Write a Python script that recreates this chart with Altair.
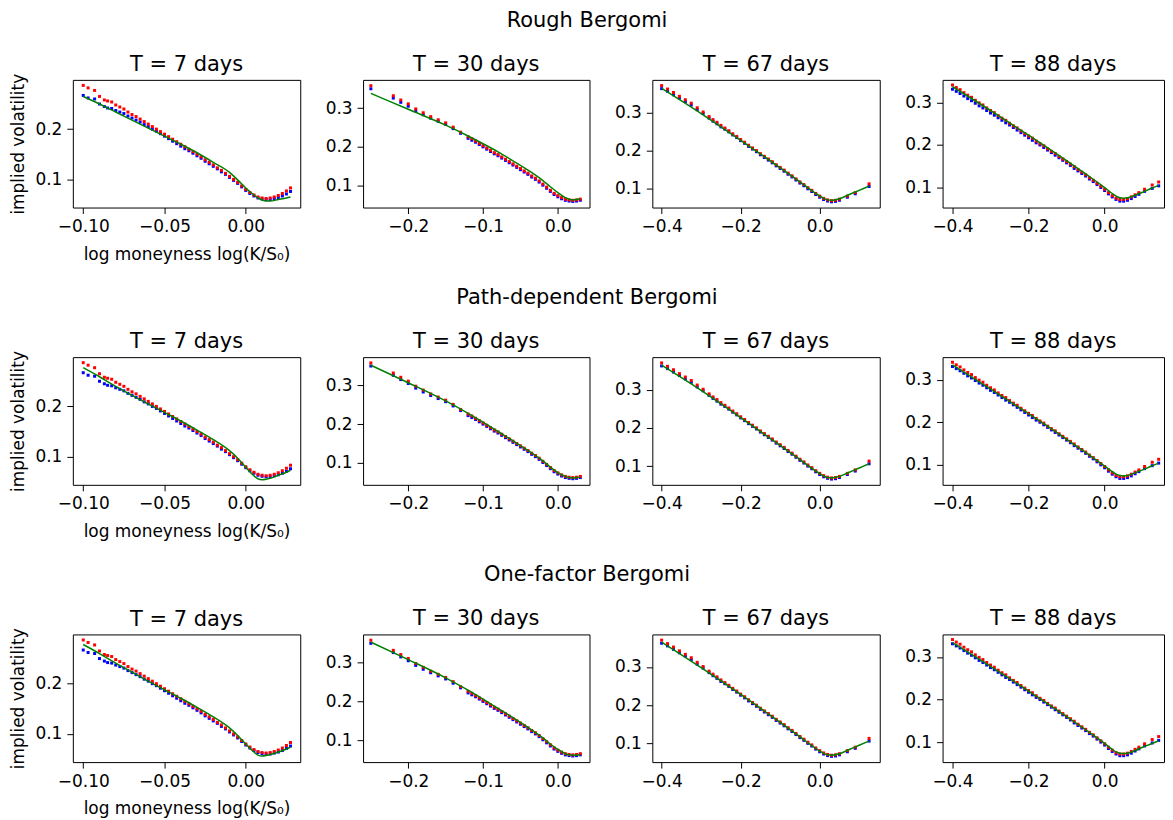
import altair as alt
import pandas as pd

# ---------------- market data (same for every model row) ----------------
k7 = [-0.100, -0.097, -0.093, -0.090, -0.087, -0.085, -0.0825, -0.080, -0.0775, -0.075,
      -0.0725, -0.070, -0.0675, -0.065, -0.0625, -0.060, -0.0575, -0.055, -0.0525, -0.050,
      -0.0475, -0.045, -0.0425, -0.040, -0.0375, -0.035, -0.0325, -0.030, -0.0275, -0.025,
      -0.0225, -0.020, -0.0175, -0.015, -0.0125, -0.010, -0.0075, -0.005, -0.0025, 0.000,
      0.0025, 0.005, 0.0075, 0.010, 0.0125, 0.015, 0.0175, 0.020, 0.0225, 0.025, 0.0275]
ask7 = [0.287, 0.282, 0.277, 0.265, 0.258, 0.256, 0.254, 0.248, 0.244, 0.240,
        0.234, 0.229, 0.225, 0.220, 0.215, 0.210, 0.205, 0.200, 0.195, 0.190,
        0.185, 0.180, 0.175, 0.170, 0.165, 0.160, 0.155, 0.150, 0.145, 0.139,
        0.134, 0.129, 0.123, 0.118, 0.112, 0.106, 0.100, 0.094, 0.087, 0.080,
        0.074, 0.069, 0.065, 0.063, 0.062, 0.063, 0.065, 0.068, 0.072, 0.077, 0.083]
bid7 = [0.267, 0.262, 0.260, 0.250, 0.245, 0.242, 0.241, 0.237, 0.234, 0.231,
        0.226, 0.222, 0.218, 0.214, 0.209, 0.205, 0.200, 0.196, 0.191, 0.186,
        0.181, 0.176, 0.171, 0.166, 0.161, 0.157, 0.152, 0.147, 0.142, 0.136,
        0.131, 0.126, 0.121, 0.115, 0.110, 0.104, 0.098, 0.092, 0.085, 0.078,
        0.072, 0.067, 0.063, 0.061, 0.060, 0.060, 0.062, 0.064, 0.067, 0.071, 0.076]

k30 = [-0.25, -0.22, -0.21, -0.20, -0.19, -0.18, -0.17, -0.16, -0.15, -0.14,
       -0.13, -0.12, -0.115, -0.11, -0.105, -0.10, -0.095, -0.09, -0.085, -0.08,
       -0.075, -0.07, -0.065, -0.06, -0.055, -0.05, -0.045, -0.04, -0.035, -0.03,
       -0.025, -0.02, -0.015, -0.01, -0.005, 0.0, 0.005, 0.01, 0.015, 0.02, 0.025, 0.03]
ask30 = [0.358, 0.332, 0.321, 0.311, 0.298, 0.288, 0.278, 0.270, 0.262, 0.251,
         0.238, 0.226, 0.221, 0.215, 0.209, 0.203, 0.197, 0.191, 0.185, 0.180,
         0.174, 0.168, 0.162, 0.156, 0.150, 0.144, 0.138, 0.132, 0.125, 0.119,
         0.112, 0.104, 0.096, 0.088, 0.080, 0.074, 0.069, 0.065, 0.063, 0.062, 0.063, 0.065]
bid30 = [0.350, 0.326, 0.315, 0.305, 0.293, 0.283, 0.274, 0.266, 0.258, 0.247,
         0.235, 0.222, 0.217, 0.212, 0.206, 0.200, 0.194, 0.188, 0.182, 0.177,
         0.171, 0.165, 0.159, 0.153, 0.147, 0.141, 0.135, 0.129, 0.122, 0.116,
         0.109, 0.101, 0.093, 0.085, 0.077, 0.071, 0.066, 0.062, 0.060, 0.059, 0.060, 0.062]

k67 = [-0.400, -0.385, -0.370, -0.355, -0.340, -0.325, -0.310, -0.295, -0.280, -0.270,
       -0.260, -0.250, -0.240, -0.230, -0.220, -0.210, -0.200, -0.190, -0.180, -0.170,
       -0.160, -0.150, -0.140, -0.130, -0.120, -0.110, -0.100, -0.090, -0.080, -0.070,
       -0.060, -0.050, -0.040, -0.030, -0.020, -0.010, 0.000, 0.010, 0.020, 0.030,
       0.040, 0.050, 0.070, 0.090, 0.125]
ask67 = [0.370, 0.361, 0.352, 0.342, 0.333, 0.324, 0.312, 0.301, 0.289, 0.281,
         0.274, 0.266, 0.259, 0.252, 0.244, 0.237, 0.229, 0.222, 0.214, 0.207,
         0.200, 0.192, 0.185, 0.178, 0.171, 0.163, 0.156, 0.149, 0.141, 0.134,
         0.126, 0.118, 0.111, 0.103, 0.096, 0.088, 0.081, 0.075, 0.071, 0.069,
         0.070, 0.073, 0.081, 0.090, 0.113]
bid67 = [0.362, 0.355, 0.346, 0.337, 0.328, 0.319, 0.307, 0.297, 0.285, 0.277,
         0.270, 0.262, 0.256, 0.249, 0.241, 0.234, 0.226, 0.219, 0.211, 0.204,
         0.197, 0.189, 0.182, 0.175, 0.168, 0.160, 0.153, 0.146, 0.138, 0.131,
         0.123, 0.115, 0.108, 0.100, 0.093, 0.085, 0.078, 0.072, 0.068, 0.066,
         0.067, 0.070, 0.078, 0.087, 0.106]

k88 = [-0.40, -0.39, -0.38, -0.37, -0.36, -0.35, -0.34, -0.33, -0.32, -0.31,
       -0.30, -0.29, -0.28, -0.27, -0.26, -0.25, -0.24, -0.23, -0.22, -0.21,
       -0.20, -0.19, -0.18, -0.17, -0.16, -0.15, -0.14, -0.13, -0.12, -0.11,
       -0.10, -0.09, -0.08, -0.07, -0.06, -0.05, -0.04, -0.03, -0.02, -0.01,
       0.00, 0.01, 0.02, 0.03, 0.04, 0.05, 0.06, 0.07, 0.08, 0.09,
       0.105, 0.125, 0.142]
ask88 = [0.341, 0.335, 0.330, 0.323, 0.317, 0.312, 0.305, 0.299, 0.294, 0.287,
         0.281, 0.276, 0.269, 0.263, 0.258, 0.251, 0.245, 0.240, 0.233, 0.227,
         0.221, 0.216, 0.209, 0.203, 0.198, 0.191, 0.185, 0.180, 0.173, 0.167,
         0.161, 0.155, 0.149, 0.142, 0.136, 0.130, 0.123, 0.117, 0.110, 0.103,
         0.096, 0.088, 0.081, 0.075, 0.072, 0.072, 0.074, 0.078, 0.083, 0.088,
         0.096, 0.106, 0.113]
bid88 = [0.331, 0.326, 0.321, 0.315, 0.309, 0.304, 0.298, 0.292, 0.287, 0.281,
         0.275, 0.270, 0.264, 0.258, 0.252, 0.247, 0.241, 0.235, 0.229, 0.223,
         0.217, 0.211, 0.205, 0.200, 0.194, 0.188, 0.182, 0.176, 0.170, 0.164,
         0.158, 0.152, 0.145, 0.139, 0.133, 0.127, 0.120, 0.114, 0.107, 0.100,
         0.093, 0.085, 0.078, 0.072, 0.068, 0.068, 0.070, 0.074, 0.079, 0.084,
         0.091, 0.098, 0.104]

# ---------------- model curves (green) ----------------
mx7 = [-0.100, -0.090, -0.080, -0.070, -0.060, -0.050, -0.040, -0.030, -0.020, -0.010,
       -0.005, 0.000, 0.005, 0.0075, 0.010, 0.0125, 0.015, 0.020, 0.025, 0.0275]
rough7 = [0.265, 0.250, 0.234, 0.218, 0.202, 0.186, 0.170, 0.153, 0.134, 0.114,
          0.099, 0.083, 0.069, 0.063, 0.059, 0.057, 0.057, 0.060, 0.063, 0.065]
pdv7 = [0.277, 0.259, 0.240, 0.222, 0.205, 0.188, 0.171, 0.153, 0.134, 0.112,
        0.097, 0.079, 0.062, 0.056, 0.054, 0.055, 0.057, 0.063, 0.069, 0.073]
one7 = [0.278, 0.260, 0.241, 0.223, 0.205, 0.188, 0.171, 0.153, 0.134, 0.112,
        0.097, 0.080, 0.064, 0.058, 0.056, 0.057, 0.059, 0.064, 0.070, 0.074]

mx30 = [-0.25, -0.20, -0.15, -0.12, -0.10, -0.08, -0.06, -0.04, -0.02, -0.01,
        0.00, 0.01, 0.015, 0.02, 0.025, 0.03]
rough30 = [0.338, 0.297, 0.256, 0.228, 0.208, 0.187, 0.164, 0.140, 0.113, 0.097,
           0.082, 0.069, 0.065, 0.063, 0.064, 0.066]
pdv30 = [0.352, 0.307, 0.260, 0.228, 0.205, 0.181, 0.157, 0.132, 0.105, 0.089,
         0.075, 0.065, 0.062, 0.061, 0.062, 0.063]
one30 = [0.353, 0.308, 0.261, 0.229, 0.206, 0.182, 0.158, 0.133, 0.106, 0.090,
         0.076, 0.065, 0.062, 0.061, 0.061, 0.062]

mx67 = [-0.40, -0.30, -0.20, -0.10, -0.05, -0.02, 0.00, 0.01, 0.02, 0.03,
        0.05, 0.075, 0.10, 0.125]
rough67 = [0.363, 0.297, 0.227, 0.155, 0.118, 0.095, 0.081, 0.075, 0.071, 0.070,
           0.074, 0.085, 0.096, 0.107]
pdv67 = [0.364, 0.298, 0.227, 0.154, 0.117, 0.094, 0.080, 0.074, 0.070, 0.069,
         0.073, 0.084, 0.095, 0.106]
one67 = [0.365, 0.298, 0.228, 0.155, 0.117, 0.094, 0.080, 0.074, 0.070, 0.069,
         0.073, 0.084, 0.095, 0.106]

mx88 = [-0.40, -0.30, -0.20, -0.10, -0.05, 0.00, 0.02, 0.03, 0.04, 0.05,
        0.06, 0.08, 0.10, 0.12, 0.142]
rough88 = [0.337, 0.281, 0.223, 0.163, 0.132, 0.100, 0.086, 0.080, 0.076, 0.075,
           0.076, 0.082, 0.089, 0.097, 0.105]
pdv88 = [0.335, 0.278, 0.220, 0.160, 0.129, 0.097, 0.084, 0.078, 0.075, 0.074,
         0.075, 0.081, 0.088, 0.096, 0.104]
one88 = [0.334, 0.278, 0.220, 0.160, 0.129, 0.097, 0.083, 0.077, 0.074, 0.073,
         0.074, 0.080, 0.088, 0.095, 0.103]

row_titles = ["Rough Bergomi", "Path-dependent Bergomi", "One-factor Bergomi"]
maturities = [7, 30, 67, 88]
x_ticks = {7: [-0.10, -0.05, 0.00], 30: [-0.2, -0.1, 0.0], 67: [-0.4, -0.2, 0.0], 88: [-0.4, -0.2, 0.0]}
y_ticks = {7: [0.1, 0.2], 30: [0.1, 0.2, 0.3], 67: [0.1, 0.2, 0.3], 88: [0.1, 0.2, 0.3]}

# ---------------- build ----------------
FONT = "DejaVu Sans"
BLUE, RED, GREEN = "#0000ff", "#ff0000", "#008000"

market = {7: (k7, bid7, ask7), 30: (k30, bid30, ask30), 67: (k67, bid67, ask67), 88: (k88, bid88, ask88)}
model_x = {7: mx7, 30: mx30, 67: mx67, 88: mx88}
models = {
    "Rough Bergomi": {7: rough7, 30: rough30, 67: rough67, 88: rough88},
    "Path-dependent Bergomi": {7: pdv7, 30: pdv30, 67: pdv67, 88: pdv88},
    "One-factor Bergomi": {7: one7, 30: one30, 67: one67, 88: one88},
}
x_dom = {7: [-0.1064, 0.0335], 30: [-0.2604, 0.0423], 67: [-0.4235, 0.152], 88: [-0.426, 0.156]}
y_dom = {7: [0.044, 0.298], 30: [0.0433, 0.373], 67: [0.051, 0.385], 88: [0.053, 0.353]}
widths = {7: 228, 30: 227, 67: 228, 88: 222}
HEIGHT = 128
TITLE_OFF = 5


def panel(model_name, T, first):
    k, bid, ask = market[T]
    mkt = pd.DataFrame({"k": k, "bid": bid, "ask": ask})
    mod = pd.DataFrame({"k": model_x[T], "iv": models[model_name][T]})
    xfmt = ".2f" if T == 7 else ".1f"
    xs = alt.Scale(domain=x_dom[T], nice=False, zero=False)
    ys = alt.Scale(domain=y_dom[T], nice=False, zero=False)
    xa = alt.Axis(values=x_ticks[T], format=xfmt, labelOverlap=False, labelFlush=False,
                  title="log moneyness log(K/S₀)" if first else None)
    ya = alt.Axis(values=y_ticks[T], format=".1f", labelOverlap=False, labelFlush=False,
                  title="implied volatility" if first else None)
    base = alt.Chart(mkt)
    b = base.mark_square(size=9, color=BLUE, opacity=1).encode(
        x=alt.X("k:Q", scale=xs, axis=xa), y=alt.Y("bid:Q", scale=ys, axis=ya))
    a = base.mark_square(size=9, color=RED, opacity=1).encode(
        x=alt.X("k:Q", scale=xs, axis=xa), y=alt.Y("ask:Q", scale=ys, axis=ya))
    g = alt.Chart(mod).mark_line(color=GREEN, strokeWidth=1.5, interpolate="monotone").encode(
        x=alt.X("k:Q", scale=xs, axis=xa), y=alt.Y("iv:Q", scale=ys, axis=ya))
    # the first panel's rotated y title reaches above the frame; compensate so titles line up
    off = TITLE_OFF - 7 if first else TITLE_OFF
    return alt.layer(b, a, g).properties(
        width=widths[T], height=HEIGHT,
        title=alt.TitleParams(f"T = {T} days", fontSize=21, font=FONT, fontWeight="normal",
                              color="black", offset=off, anchor="middle", frame="group"))


rows = []
for name in row_titles:
    panels = [panel(name, T, i == 0) for i, T in enumerate(maturities)]
    rows.append(alt.hconcat(*panels, spacing=63, bounds="flush").properties(
        title=alt.TitleParams(name, fontSize=21, font=FONT, fontWeight="normal",
                              color="black", offset=23, anchor="middle")))

chart = alt.vconcat(*rows, spacing=23).properties(
    padding={"left": 1, "top": 0, "right": 0, "bottom": 0}
).configure_view(
    stroke="black", strokeWidth=1
).configure_axis(
    labelFont=FONT, labelFontSize=17, labelColor="black",
    titleFont=FONT, titleFontSize=17, titleFontWeight="normal", titleColor="black",
    tickColor="black", tickSize=6, tickWidth=1, labelPadding=5,
    grid=False, domain=False
).configure_axisX(titlePadding=12).configure_axisY(titlePadding=7).configure_title(
    font=FONT, fontWeight="normal", color="black"
)

chart.save("out.html", embed_options={"renderer": "svg", "actions": False})
